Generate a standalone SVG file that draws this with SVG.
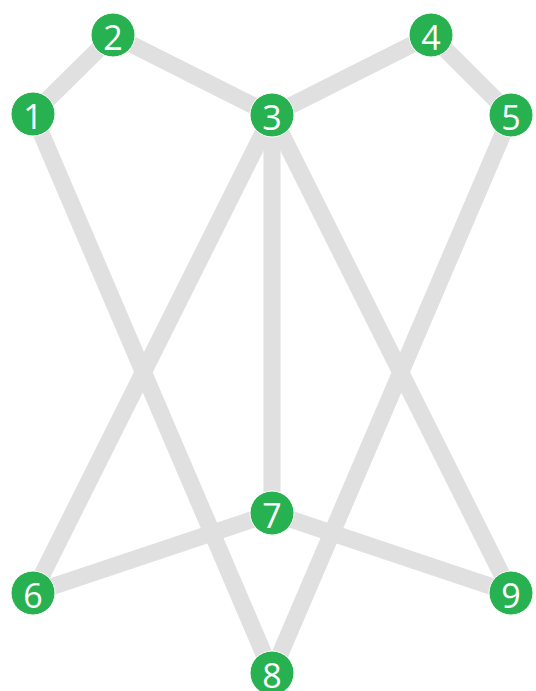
<svg xmlns="http://www.w3.org/2000/svg" width="536" height="691" viewBox="0 0 536 691">
<style>
.e{stroke:#e0e0e0;stroke-width:17;stroke-linecap:butt;fill:none}
.n circle{fill:#27b150;stroke:#ffffff;stroke-width:1}
.n text{fill:#ffffff;font-family:"Open Sans","Noto Sans",sans-serif;font-size:34px;text-anchor:middle;dominant-baseline:central}
</style>
<rect width="536" height="691" fill="#ffffff"/>
<g id="edges">
<line class="e" x1="33" y1="114" x2="113" y2="35"/>
<line class="e" x1="113" y1="35" x2="272" y2="115"/>
<line class="e" x1="272" y1="115" x2="431" y2="35"/>
<line class="e" x1="431" y1="35" x2="511" y2="115"/>
<line class="e" x1="33" y1="114" x2="272" y2="673"/>
<line class="e" x1="272" y1="115" x2="33" y2="593"/>
<line class="e" x1="272" y1="115" x2="272" y2="513"/>
<line class="e" x1="272" y1="115" x2="511" y2="593"/>
<line class="e" x1="511" y1="115" x2="272" y2="673"/>
<line class="e" x1="33" y1="593" x2="272" y2="513"/>
<line class="e" x1="272" y1="513" x2="511" y2="593"/>
</g>
<g id="n1" class="n"><circle cx="33" cy="114" r="22"/><text x="33" y="116">1</text></g>
<g id="n2" class="n"><circle cx="113" cy="35" r="22"/><text x="113" y="37">2</text></g>
<g id="n3" class="n"><circle cx="272" cy="115" r="22"/><text x="272" y="117">3</text></g>
<g id="n4" class="n"><circle cx="431" cy="35" r="22"/><text x="431" y="37">4</text></g>
<g id="n5" class="n"><circle cx="511" cy="115" r="22"/><text x="511" y="117">5</text></g>
<g id="n6" class="n"><circle cx="33" cy="593" r="22"/><text x="33" y="595">6</text></g>
<g id="n7" class="n"><circle cx="272" cy="513" r="22"/><text x="272" y="515">7</text></g>
<g id="n8" class="n"><circle cx="272" cy="673" r="22"/><text x="272" y="675">8</text></g>
<g id="n9" class="n"><circle cx="511" cy="593" r="22"/><text x="511" y="595">9</text></g>
</svg>
